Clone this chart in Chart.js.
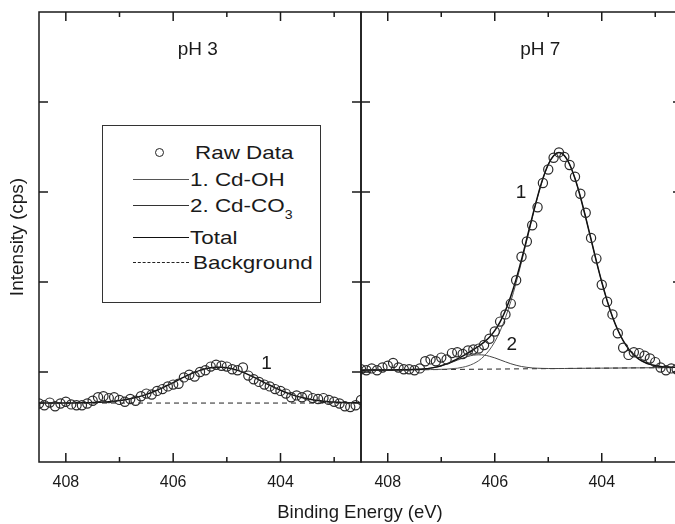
<!DOCTYPE html>
<html><head><meta charset="utf-8">
<script src="https://cdn.jsdelivr.net/npm/chart.js@4.4.1/dist/chart.umd.min.js"></script>
<style>
html,body{margin:0;padding:0;background:#fff;overflow:hidden;}
#wrap{position:relative;width:675px;height:524px;overflow:hidden;font-family:"Liberation Sans",Arial,sans-serif;color:#1a1a1a;background:#fff;}
#c1{position:absolute;left:0;top:0;}
#c2{position:absolute;left:360px;top:0;}
#xtitle{position:absolute;left:210px;width:300px;top:502px;text-align:center;font-size:18.5px;line-height:20px;}
#legend{position:absolute;left:102px;top:125px;width:219px;height:178px;box-sizing:border-box;border:1px solid #333;background:#fff;}
#legend .t{position:absolute;font-size:19px;line-height:20px;white-space:nowrap;transform:scaleX(1.18);transform-origin:left center;}
#legend .ln{position:absolute;left:30px;width:56px;height:0;}
#legend .circ{position:absolute;width:7px;height:7px;border:1.2px solid #222;border-radius:50%;}
#legend sub{font-size:12px;vertical-align:-7px;}
</style></head>
<body>
<div id="wrap">
  <canvas id="c1" width="364" height="524"></canvas>
  <canvas id="c2" width="323" height="524"></canvas>
  <div id="xtitle">Binding Energy (eV)</div>
  <div id="legend">
    <span class="circ" style="left:52px;top:22px"></span>
    <span class="t" style="left:92px;top:17px">Raw Data</span>
    <span class="ln" style="top:53px;border-top:1px solid #555"></span>
    <span class="t" style="left:87px;top:44px">1. Cd-OH</span>
    <span class="ln" style="top:79px;border-top:1.3px solid #333"></span>
    <span class="t" style="left:87px;top:70px">2. Cd-CO<sub>3</sub></span>
    <span class="ln" style="top:111px;border-top:1.8px solid #111"></span>
    <span class="t" style="left:87px;top:102px">Total</span>
    <span class="ln" style="top:136px;border-top:1px dashed #222"></span>
    <span class="t" style="left:90px;top:127px">Background</span>
  </div>
</div>
<script>
// Binding energy grid (eV)
const energies = [408.5,408.4,408.3,408.2,408.1,408.0,407.9,407.8,407.7,407.6,
  407.5,407.4,407.3,407.2,407.1,407.0,406.9,406.8,406.7,406.6,
  406.5,406.4,406.3,406.2,406.1,406.0,405.9,405.8,405.7,405.6,
  405.5,405.4,405.3,405.2,405.1,405.0,404.9,404.8,404.7,404.6,
  404.5,404.4,404.3,404.2,404.1,404.0,403.9,403.8,403.7,403.6,
  403.5,403.4,403.3,403.2,403.1,403.0,402.9,402.8,402.7,402.6,
  402.5];

// pH 3 panel
const rawPH3 = [0.65,0.63,0.66,0.62,0.65,0.67,0.64,0.63,0.63,0.65,
  0.68,0.72,0.73,0.71,0.72,0.69,0.67,0.70,0.68,0.73,
  0.76,0.75,0.79,0.81,0.84,0.86,0.87,0.94,0.97,0.95,
  1.00,1.02,1.06,1.08,1.07,1.06,1.03,1.02,1.05,0.96,
  0.92,0.89,0.86,0.84,0.81,0.79,0.76,0.72,0.74,0.72,
  0.74,0.71,0.70,0.71,0.69,0.67,0.65,0.62,0.61,0.63,
  0.69];
const fitPH3 = [0.655,0.655,0.655,0.655,0.655,0.656,0.656,0.657,0.657,0.659,
  0.660,0.663,0.666,0.670,0.676,0.683,0.692,0.703,0.716,0.732,
  0.751,0.773,0.797,0.824,0.853,0.882,0.913,0.943,0.971,0.996,
  1.018,1.036,1.048,1.054,1.054,1.048,1.036,1.018,0.996,0.971,
  0.943,0.913,0.882,0.853,0.824,0.797,0.773,0.751,0.732,0.716,
  0.703,0.692,0.683,0.676,0.670,0.666,0.663,0.660,0.659,0.657,
  0.657];
const bgEnergies = [408.5, 402.5];
const bgPH3 = [0.655, 0.655];

// pH 7 panel
const rawPH7 = [1.03,1.02,1.04,1.02,1.05,1.07,1.10,1.05,1.03,1.03,
  1.02,1.04,1.12,1.14,1.12,1.16,1.14,1.21,1.22,1.20,
  1.24,1.25,1.26,1.30,1.37,1.45,1.56,1.64,1.76,2.02,
  2.28,2.45,2.63,2.83,3.10,3.25,3.38,3.44,3.39,3.30,
  3.17,2.98,2.77,2.49,2.26,1.97,1.78,1.64,1.43,1.27,
  1.19,1.22,1.21,1.18,1.15,1.11,1.05,1.02,1.04,1.03,
  1.05];
const cdOH7 = [1.020,1.021,1.021,1.022,1.022,1.023,1.023,1.024,1.024,1.025,
  1.025,1.026,1.026,1.027,1.028,1.030,1.032,1.037,1.042,1.053,
  1.068,1.092,1.126,1.176,1.244,1.336,1.455,1.604,1.784,1.992,
  2.222,2.467,2.712,2.944,3.146,3.304,3.404,3.439,3.405,3.306,
  3.149,2.948,2.717,2.473,2.229,2.000,1.793,1.614,1.466,1.348,
  1.257,1.190,1.141,1.108,1.085,1.071,1.061,1.057,1.053,1.052,
  1.051];
const cdCO3_7 = [1.020,1.021,1.021,1.022,1.022,1.023,1.023,1.024,1.024,1.026,
  1.028,1.031,1.035,1.043,1.053,1.068,1.086,1.108,1.131,1.154,
  1.173,1.187,1.191,1.188,1.175,1.157,1.135,1.113,1.092,1.075,
  1.061,1.052,1.045,1.042,1.040,1.039,1.038,1.039,1.039,1.040,
  1.040,1.041,1.041,1.042,1.042,1.043,1.043,1.044,1.044,1.045,
  1.045,1.046,1.046,1.047,1.047,1.048,1.048,1.049,1.049,1.050,
  1.050];
const total7 = [1.020,1.021,1.021,1.022,1.022,1.023,1.023,1.024,1.024,1.026,
  1.028,1.031,1.035,1.043,1.054,1.070,1.090,1.116,1.144,1.177,
  1.211,1.248,1.286,1.332,1.387,1.460,1.557,1.683,1.842,2.032,
  2.248,2.483,2.721,2.949,3.149,3.305,3.404,3.439,3.405,3.306,
  3.149,2.948,2.717,2.473,2.229,2.000,1.793,1.614,1.466,1.348,
  1.257,1.190,1.141,1.108,1.085,1.071,1.061,1.057,1.053,1.052,
  1.051];
const bgPH7 = [1.020, 1.050];

// Axis settings
const xMin = 402.5, xMax = 408.5, yMin = 0, yMax = 5;
const xTickValues = [403, 404, 405, 406, 407, 408];
const xLabelValues = [404, 406, 408];
const yTickValues = [1, 2, 3, 4];

const FONT = '"Liberation Sans", Arial, sans-serif';
const INK = '#1a1a1a';
const pts = (xs, ys) => xs.map((x, i) => ({x, y: ys[i]}));

// Panel frame with inward ticks on all four sides, placed by the chart's scales
const framePlugin = {
  id: 'frame',
  afterDraw(chart) {
    const {ctx, chartArea: a} = chart;
    const x = chart.scales.x, y = chart.scales.y;
    ctx.save();
    ctx.strokeStyle = INK;
    ctx.lineWidth = 1.5;
    ctx.setLineDash([]);
    ctx.strokeRect(a.left, a.top, a.right - a.left, a.bottom - a.top);
    ctx.fillStyle = INK;
    xTickValues.forEach(v => {
      const px = x.getPixelForValue(v);
      const len = xLabelValues.includes(v) ? 9 : 5;
      ctx.fillRect(px - 0.75, a.bottom - len, 1.5, len);
      ctx.fillRect(px - 0.75, a.top, 1.5, len);
    });
    yTickValues.forEach(v => {
      const py = y.getPixelForValue(v);
      ctx.fillRect(a.left, py - 0.75, 9, 1.5);
      ctx.fillRect(a.right - 9, py - 0.75, 9, 1.5);
    });
    ctx.restore();
  }
};

// Text notes placed in data coordinates
const notesPlugin = {
  id: 'notes',
  afterDraw(chart, args, opts) {
    const {ctx, scales: {x, y}} = chart;
    ctx.save();
    ctx.fillStyle = INK;
    ctx.textAlign = 'center';
    ctx.textBaseline = 'middle';
    (opts.items || []).forEach(it => {
      ctx.font = (it.size || 19) + 'px ' + FONT;
      ctx.fillText(it.text, x.getPixelForValue(it.x), y.getPixelForValue(it.y));
    });
    ctx.restore();
  }
};

function rawSet(ys) {
  return {label: 'Raw Data', data: pts(energies, ys), showLine: false,
    pointRadius: 4.6, pointHoverRadius: 4.6, pointBorderWidth: 1.2,
    pointBorderColor: '#2a2a2a', pointBackgroundColor: 'rgba(255,255,255,0)', order: 0};
}
function lineSet(label, xs, ys, color, width, dash, order) {
  return {label, data: pts(xs, ys), borderColor: color, borderWidth: width,
    borderDash: dash || [], pointRadius: 0, pointHoverRadius: 0,
    cubicInterpolationMode: 'monotone', fill: false, order};
}

function makeChart(id, datasets, cfg) {
  return new Chart(document.getElementById(id), {
    type: 'line',
    data: {datasets},
    plugins: [framePlugin, notesPlugin],
    options: {
      responsive: false, animation: false, events: [],
      layout: {padding: cfg.padding, autoPadding: false},
      plugins: {legend: {display: false}, tooltip: {enabled: false}, notes: {items: cfg.notes}},
      scales: {
        x: {
          type: 'linear', reverse: true, min: xMin, max: xMax,
          grid: {display: false, drawTicks: false}, border: {display: false},
          afterBuildTicks: s => { s.ticks = xTickValues.map(v => ({value: v})); },
          ticks: {autoSkip: false, maxRotation: 0, padding: 11, color: INK, font: {family: FONT, size: 16},
            callback: v => xLabelValues.includes(v) ? String(v) : ''},
          afterFit: s => { s.height = 62; }
        },
        y: {
          min: yMin, max: yMax,
          grid: {display: false, drawTicks: false}, border: {display: false},
          afterBuildTicks: s => { s.ticks = yTickValues.map(v => ({value: v})); },
          ticks: {display: false},
          title: cfg.yTitle ? {display: true, text: cfg.yTitle, color: INK,
            font: {family: FONT, size: 19}, padding: {top: 6, bottom: 0}} : {display: false},
          afterFit: s => { s.width = cfg.yWidth; }
        }
      }
    }
  });
}

makeChart('c1', [
  rawSet(rawPH3),
  lineSet('Total', energies, fitPH3, '#111', 1.5, null, 1),
  lineSet('Background', bgEnergies, bgPH3, '#222', 1, [5, 4], 2)
], {
  padding: {left: 0, right: 3, top: 12, bottom: 0}, yWidth: 39, yTitle: 'Intensity (cps)',
  notes: [{text: 'pH 3', x: 405.54, y: 4.58}, {text: '1', x: 404.26, y: 1.09}]
});
makeChart('c2', [
  rawSet(rawPH7),
  lineSet('Total', energies, total7, '#111', 1.5, null, 1),
  lineSet('1. Cd-OH', energies, cdOH7, '#555', 1, null, 2),
  lineSet('2. Cd-CO3', energies, cdCO3_7, '#444', 1, null, 3),
  lineSet('Background', bgEnergies, bgPH7, '#222', 1, [5, 4], 4)
], {
  padding: {left: 0, right: 1, top: 12, bottom: 0}, yWidth: 1, yTitle: null,
  notes: [{text: 'pH 7', x: 405.15, y: 4.58}, {text: '1', x: 405.51, y: 2.99}, {text: '2', x: 405.68, y: 1.30}]
});
</script>
</body></html>
